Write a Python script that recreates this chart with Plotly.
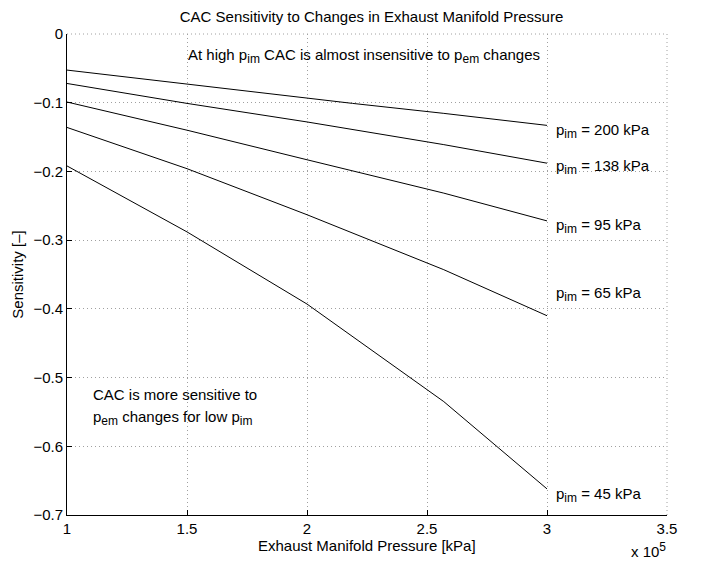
import plotly.graph_objects as go

pressure = [1.0e5, 1.5e5, 2.0e5, 2.19e5, 2.57e5, 3.0e5]
s_200 = [-0.0525, -0.073, -0.093, -0.101, -0.1155, -0.133]
s_138 = [-0.072, -0.101, -0.128, -0.139, -0.161, -0.188]
s_95 = [-0.099, -0.140, -0.183, -0.199, -0.2316, -0.272]
s_65 = [-0.136, -0.196, -0.263, -0.290, -0.343, -0.410]
s_45 = [-0.192, -0.288, -0.393, -0.440, -0.535, -0.662]
series = [("200", s_200), ("138", s_138), ("95", s_95), ("65", s_65), ("45", s_45)]
label_y = {"200": -0.141, "138": -0.194, "95": -0.279, "65": -0.378, "45": -0.671}

xtick_vals = [1.0e5, 1.5e5, 2.0e5, 2.5e5, 3.0e5, 3.5e5]
xtick_text = ["1", "1.5", "2", "2.5", "3", "3.5"]
ytick_vals = [0, -0.1, -0.2, -0.3, -0.4, -0.5, -0.6, -0.7]
ytick_text = ["0", "−0.1", "−0.2", "−0.3", "−0.4", "−0.5", "−0.6", "−0.7"]

FONT = "Liberation Sans, Arial, Helvetica, sans-serif"
FS = 15


def sub(s):
    return f"<sub><span style='font-size:12px'>{s}</span></sub>"


fig = go.Figure()
for name, vals in series:
    fig.add_trace(go.Scatter(x=pressure, y=vals, mode="lines",
                             line=dict(color="black", width=1), showlegend=False))
    fig.add_annotation(x=3.03e5, y=label_y[name], xref="x", yref="y",
                       text=f"p{sub('im')} = {name} kPa", showarrow=False,
                       xanchor="left", yanchor="middle",
                       font=dict(family=FONT, size=FS, color="black"))

fig.add_annotation(x=1.497e5, y=-0.032, xref="x", yref="y",
                   text=f"At high p{sub('im')} CAC is almost insensitive to p{sub('em')} changes",
                   showarrow=False, xanchor="left", yanchor="middle",
                   font=dict(family=FONT, size=FS, color="black"))
fig.add_annotation(x=1.10e5, y=-0.525, xref="x", yref="y",
                   text="CAC is more sensitive to", showarrow=False,
                   xanchor="left", yanchor="middle",
                   font=dict(family=FONT, size=FS, color="black"))
fig.add_annotation(x=1.10e5, y=-0.559, xref="x", yref="y",
                   text=f"p{sub('em')} changes for low p{sub('im')}", showarrow=False,
                   xanchor="left", yanchor="middle",
                   font=dict(family=FONT, size=FS, color="black"))
fig.add_annotation(x=1.0, y=-0.072, xref="paper", yref="paper",
                   text="x 10<sup><span style='font-size:12px'>5</span></sup>", showarrow=False,
                   xanchor="right", yanchor="middle", borderpad=0,
                   font=dict(family=FONT, size=FS, color="black"))
fig.add_annotation(x=0.5, y=-0.064, xref="paper", yref="paper",
                   text="Exhaust Manifold Pressure [kPa]", showarrow=False,
                   xanchor="center", yanchor="middle", borderpad=0,
                   font=dict(family=FONT, size=FS, color="black"))

# dotted frame on top and right (MATLAB box off look)
fig.add_shape(type="line", xref="paper", yref="paper", x0=0, x1=1, y0=1, y1=1,
              line=dict(color="#a0a0a0", width=1, dash="1px,3px"))
fig.add_shape(type="line", xref="paper", yref="paper", x0=1, x1=1, y0=0, y1=1,
              line=dict(color="#a0a0a0", width=1, dash="1px,3px"))

fig.update_layout(
    width=701, height=561,
    margin=dict(l=67, r=34, t=34, b=46),
    paper_bgcolor="white", plot_bgcolor="white",
    font=dict(family=FONT, size=FS, color="black"),
    title=dict(text="CAC Sensitivity to Changes in Exhaust Manifold Pressure",
               x=0.53, xanchor="center", y=0.97, yanchor="middle",
               font=dict(family=FONT, size=FS, color="black")),
    xaxis=dict(range=[1.0e5, 3.5e5], tickvals=xtick_vals, ticktext=xtick_text,
               showline=True, linecolor="black", linewidth=1,
               ticks="inside", ticklen=5, tickcolor="black",
               showgrid=True, gridcolor="#a0a0a0", griddash="1px,3px", gridwidth=1,
               zeroline=False),
    yaxis=dict(range=[-0.7, 0], tickvals=ytick_vals, ticktext=ytick_text,
               showline=True, linecolor="black", linewidth=1,
               ticks="inside", ticklen=5, tickcolor="black",
               showgrid=True, gridcolor="#a0a0a0", griddash="1px,3px", gridwidth=1,
               zeroline=False,
               title=dict(text="Sensitivity [–]", standoff=6,
                          font=dict(family=FONT, size=FS))),
)

fig.write_html("out.html")
